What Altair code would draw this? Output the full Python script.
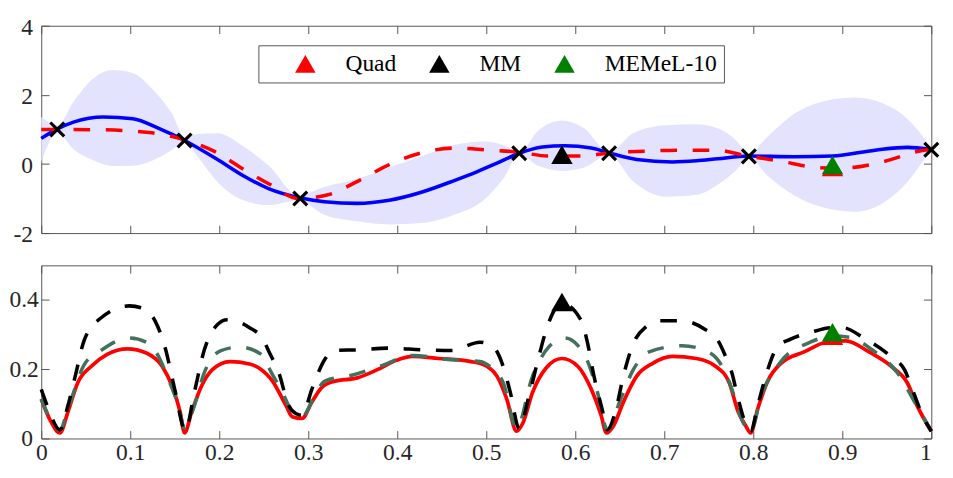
import altair as alt
import pandas as pd

# ---------------- data ----------------
# top panel: GP mean (blue), quadrature / true curve (red dashed), band
mean_x = [0.0, 0.017, 0.037, 0.07, 0.103, 0.132, 0.161, 0.198, 0.227, 0.256, 0.289, 0.318,
          0.355, 0.391, 0.428, 0.464, 0.49, 0.51, 0.537, 0.563, 0.588, 0.618, 0.638, 0.669,
          0.709, 0.736, 0.76, 0.794, 0.846, 0.889, 0.937, 0.973, 1.0]
mean_y = [0.74, 1.0, 1.22, 1.36, 1.31, 1.03, 0.68, 0.13, -0.34, -0.72, -0.97, -1.09,
          -1.14, -1.05, -0.81, -0.48, -0.22, 0.0, 0.31, 0.49, 0.53, 0.46, 0.32, 0.13,
          0.06, 0.09, 0.15, 0.23, 0.21, 0.23, 0.40, 0.48, 0.41]

true_x = [0.0, 0.066, 0.121, 0.161, 0.198, 0.227, 0.256, 0.289, 0.321, 0.357, 0.391, 0.427,
          0.465, 0.5, 0.537, 0.57, 0.607, 0.638, 0.68, 0.716, 0.758, 0.794, 0.831, 0.864,
          0.889, 0.911, 0.948, 0.992, 1.0]
true_y = [1.0, 0.99, 0.91, 0.70, 0.32, -0.15, -0.58, -1.0, -0.9, -0.48, -0.02, 0.32,
          0.46, 0.41, 0.34, 0.23, 0.23, 0.32, 0.37, 0.40, 0.40, 0.23, 0.08, -0.08,
          -0.12, -0.10, 0.08, 0.40, 0.42]

band_x = [0.0, 0.018, 0.037, 0.059, 0.081, 0.103, 0.125, 0.147, 0.161, 0.176, 0.198, 0.227,
          0.256, 0.289, 0.318, 0.355, 0.391, 0.428, 0.464, 0.497, 0.519, 0.537, 0.559, 0.585,
          0.61, 0.638, 0.665, 0.702, 0.735, 0.76, 0.78, 0.795, 0.816, 0.846, 0.882, 0.915,
          0.948, 0.973, 0.992, 1.0]
band_hi = [1.36, 1.12, 1.83, 2.49, 2.72, 2.63, 2.16, 1.45, 0.79, 0.87, 0.89, 0.51,
           -0.06, -0.91, -0.67, -0.43, -0.10, 0.23, 0.55, 0.65, 0.55, 0.33, 0.98, 1.26,
           1.03, 0.34, 0.89, 1.12, 1.15, 1.03, 0.70, 0.30, 0.79, 1.45, 1.83, 1.92,
           1.73, 1.31, 0.74, 0.44]
band_lo = [0.04, 0.88, 0.41, 0.10, -0.06, -0.05, 0.10, 0.41, 0.67, 0.20, -0.52, -1.05,
           -1.19, -1.05, -1.47, -1.66, -1.75, -1.71, -1.47, -1.05, -0.43, 0.27, -0.06, -0.20,
           -0.10, 0.27, -0.50, -0.95, -0.90, -0.60, -0.20, 0.18, -0.34, -0.91, -1.28, -1.38,
           -1.09, -0.53, 0.13, 0.38]

obs_x = [0.018, 0.161, 0.291, 0.537, 0.638, 0.795, 1.0]
obs_y = [1.0, 0.68, -1.0, 0.31, 0.31, 0.22, 0.41]

methods = ["Quad", "MM", "MEMeL-10"]
method_colors = ["#ff0000", "#000000", "#008000"]
top_pick_x = [0.889, 0.585, 0.889]
top_pick_y = [-0.09, 0.27, -0.03]
bot_pick_x = [0.889, 0.585, 0.889]
bot_pick_y = [0.297, 0.394, 0.307]

# bottom panel: acquisition curves
quad_x = [0.0, 0.010, 0.021, 0.030, 0.041, 0.056, 0.074, 0.097, 0.118, 0.136, 0.147, 0.156,
          0.161, 0.169, 0.180, 0.192, 0.212, 0.234, 0.245, 0.260, 0.275, 0.282, 0.293, 0.304,
          0.315, 0.329, 0.355, 0.377, 0.399, 0.417, 0.446, 0.483, 0.501, 0.512, 0.523, 0.534,
          0.541, 0.552, 0.567, 0.585, 0.603, 0.618, 0.629, 0.635, 0.643, 0.654, 0.669, 0.687,
          0.709, 0.736, 0.758, 0.773, 0.783, 0.791, 0.797, 0.805, 0.816, 0.831, 0.857, 0.882,
          0.904, 0.930, 0.955, 0.973, 0.984, 1.0]
quad_y = [0.114, 0.053, 0.016, 0.077, 0.161, 0.208, 0.243, 0.259, 0.247, 0.208, 0.151, 0.077,
          0.016, 0.077, 0.151, 0.198, 0.222, 0.215, 0.203, 0.165, 0.095, 0.063, 0.058, 0.105,
          0.147, 0.165, 0.175, 0.198, 0.226, 0.237, 0.231, 0.222, 0.208, 0.180, 0.114, 0.021,
          0.044, 0.133, 0.203, 0.231, 0.208, 0.142, 0.067, 0.016, 0.037, 0.105, 0.180, 0.217,
          0.237, 0.231, 0.208, 0.161, 0.077, 0.039, 0.016, 0.086, 0.165, 0.217, 0.250, 0.278,
          0.282, 0.250, 0.208, 0.161, 0.095, 0.021]

memel_x = [0.0, 0.021, 0.030, 0.048, 0.067, 0.099, 0.118, 0.132, 0.143, 0.154, 0.161, 0.172,
           0.183, 0.202, 0.223, 0.249, 0.256, 0.271, 0.282, 0.293, 0.307, 0.318, 0.351, 0.384,
           0.417, 0.457, 0.493, 0.504, 0.519, 0.534, 0.552, 0.570, 0.588, 0.603, 0.614, 0.625,
           0.636, 0.651, 0.665, 0.683, 0.720, 0.746, 0.765, 0.776, 0.787, 0.797, 0.809, 0.831,
           0.864, 0.889, 0.909, 0.933, 0.962, 0.984, 1.0]
memel_y = [0.114, 0.025, 0.085, 0.212, 0.254, 0.290, 0.278, 0.236, 0.170, 0.095, 0.030, 0.095,
           0.189, 0.254, 0.264, 0.240, 0.203, 0.133, 0.077, 0.063, 0.123, 0.165, 0.184, 0.212,
           0.240, 0.228, 0.222, 0.208, 0.161, 0.030, 0.180, 0.264, 0.290, 0.268, 0.222, 0.133,
           0.025, 0.114, 0.198, 0.250, 0.268, 0.254, 0.208, 0.142, 0.055, 0.021, 0.123, 0.222,
           0.278, 0.296, 0.292, 0.257, 0.189, 0.093, 0.021]

mm_x = [0.0, 0.008, 0.021, 0.030, 0.039, 0.048, 0.067, 0.099, 0.114, 0.128, 0.139, 0.150,
        0.162, 0.172, 0.183, 0.198, 0.209, 0.234, 0.249, 0.256, 0.267, 0.278, 0.286, 0.293,
        0.304, 0.318, 0.329, 0.355, 0.391, 0.428, 0.461, 0.493, 0.508, 0.519, 0.527, 0.537,
        0.548, 0.559, 0.567, 0.585, 0.607, 0.614, 0.621, 0.630, 0.636, 0.645, 0.654, 0.665,
        0.680, 0.694, 0.720, 0.746, 0.758, 0.769, 0.776, 0.783, 0.797, 0.805, 0.815, 0.827,
        0.842, 0.864, 0.889, 0.900, 0.926, 0.955, 0.970, 0.980, 0.990, 1.0]
mm_y = [0.142, 0.086, 0.025, 0.095, 0.189, 0.282, 0.348, 0.383, 0.376, 0.339, 0.264, 0.142,
        0.022, 0.133, 0.254, 0.329, 0.343, 0.320, 0.287, 0.250, 0.189, 0.095, 0.072, 0.067,
        0.142, 0.226, 0.254, 0.256, 0.261, 0.256, 0.254, 0.278, 0.264, 0.208, 0.133, 0.028,
        0.123, 0.236, 0.311, 0.39, 0.339, 0.273, 0.180, 0.086, 0.025, 0.077, 0.180, 0.273,
        0.324, 0.340, 0.340, 0.315, 0.292, 0.236, 0.189, 0.114, 0.021, 0.095, 0.189, 0.264,
        0.287, 0.306, 0.320, 0.320, 0.287, 0.236, 0.198, 0.133, 0.067, 0.021]

x_ticks = [0, 0.1, 0.2, 0.3, 0.4, 0.5, 0.6, 0.7, 0.8, 0.9, 1]
y1_ticks = [-2, 0, 2, 4]
y2_ticks = [0, 0.2, 0.4]

# ---------------- styling ----------------
FONT = "Liberation Serif, Times New Roman, DejaVu Serif, serif"
AX = "#555555"
TXT = "#262626"
LFS = 24
W, H1, H2 = 910, 212, 177
DASH = [17, 16]
X_SHAPE = "M-1,-1L1,1M-1,1L1,-1"

xs = alt.Scale(domain=[0, 1], nice=False, zero=False)
ys1 = alt.Scale(domain=[-2, 4], nice=False, zero=False)
ys2 = alt.Scale(domain=[0, 0.5], nice=False, zero=False)


def tick_axis(orient, values, labels=False, pad=8, align=None, loff=0):
    kw = {}
    if align is not None:
        kw["labelAlign"] = align
    return alt.Axis(orient=orient, values=values, offset=-8, tickSize=8, domain=False,
                    grid=False, labels=labels, tickColor=AX, tickWidth=1, title=None,
                    labelPadding=pad, labelExpr="'' + datum.value", labelFlush=False,
                    labelOverlap=False, labelBound=False, labelFont=FONT,
                    labelFontSize=LFS, labelColor=TXT, labelOffset=loff, **kw)


df_band = pd.DataFrame({"x": band_x, "lo": band_lo, "hi": band_hi})
df_mean = pd.DataFrame({"x": mean_x, "y": mean_y})
df_true = pd.DataFrame({"x": true_x, "y": true_y})
df_obs = pd.DataFrame({"x": obs_x, "y": obs_y})
df_top_pick = pd.DataFrame({"x": top_pick_x, "y": top_pick_y, "method": methods})
df_bot_pick = pd.DataFrame({"x": bot_pick_x, "y": bot_pick_y, "method": methods})
df_quad = pd.DataFrame({"x": quad_x, "y": quad_y})
df_memel = pd.DataFrame({"x": memel_x, "y": memel_y})
df_mm = pd.DataFrame({"x": mm_x, "y": mm_y})

# ---------------- top panel ----------------
band = alt.Chart(df_band).mark_area(color="#e3e3fd", opacity=1, interpolate="monotone").encode(
    x=alt.X("x:Q", scale=xs, axis=tick_axis("bottom", x_ticks)),
    y=alt.Y("lo:Q", scale=ys1, axis=tick_axis("left", y1_ticks, labels=True, pad=9, loff=2)),
    y2="hi:Q",
)
mean_line = alt.Chart(df_mean).mark_line(color="#0000ff", strokeWidth=3.6, interpolate="monotone").encode(
    x=alt.X("x:Q", scale=xs, axis=tick_axis("top", x_ticks)),
    y=alt.Y("y:Q", scale=ys1, axis=tick_axis("right", y1_ticks)),
)
true_line = alt.Chart(df_true).mark_line(color="#ff0000", strokeWidth=3.6, strokeDash=DASH,
                                         interpolate="monotone").encode(
    x=alt.X("x:Q", scale=xs, axis=None),
    y=alt.Y("y:Q", scale=ys1, axis=None),
)
obs = alt.Chart(df_obs).mark_point(shape=X_SHAPE, filled=False, color="black", strokeWidth=3.2,
                                   size=200, opacity=1).encode(
    x=alt.X("x:Q", scale=xs, axis=None),
    y=alt.Y("y:Q", scale=ys1, axis=None),
)
color_enc = alt.Color(
    "method:N",
    scale=alt.Scale(domain=methods, range=method_colors),
    legend=alt.Legend(
        orient="none", legendX=222, legendY=20, direction="horizontal",
        title=" ", titleOrient="left", titleFontSize=4, titlePadding=29,
        symbolType="triangle-up", symbolSize=440, symbolStrokeWidth=0, symbolOpacity=1,
        labelFont=FONT, labelFontSize=LFS, labelColor="black", labelOffset=29,
        columnPadding=32, padding=7, strokeColor=AX, fillColor="white", labelLimit=400,
    ),
    sort=methods,
)
top_pick = alt.Chart(df_top_pick).mark_point(shape="triangle-up", filled=True, size=480,
                                             opacity=1).encode(
    x=alt.X("x:Q", scale=xs, axis=None),
    y=alt.Y("y:Q", scale=ys1, axis=None),
    color=color_enc,
)

top = alt.layer(band, mean_line, true_line, obs, top_pick).resolve_axis(
    x="independent", y="independent"
).properties(width=W, height=H1)

# ---------------- bottom panel ----------------
x_label_align = {"condition": {"test": "datum.value == 1", "value": "right"}, "value": "center"}
y2_label_pad = {"condition": {"test": "datum.value > 0.1", "value": 3}, "value": 9}
quad_line = alt.Chart(df_quad).mark_line(color="#ff0000", strokeWidth=3.8, interpolate="monotone").encode(
    x=alt.X("x:Q", scale=xs, axis=tick_axis("bottom", x_ticks, labels=True, pad=2,
                                             align=x_label_align)),
    y=alt.Y("y:Q", scale=ys2, axis=tick_axis("left", y2_ticks, labels=True, pad=y2_label_pad)),
)
memel_line = alt.Chart(df_memel).mark_line(color="#43715c", strokeWidth=3.6, strokeDash=DASH,
                                           interpolate="monotone").encode(
    x=alt.X("x:Q", scale=xs, axis=tick_axis("top", x_ticks)),
    y=alt.Y("y:Q", scale=ys2, axis=tick_axis("right", y2_ticks)),
)
mm_line = alt.Chart(df_mm).mark_line(color="#000000", strokeWidth=3.6, strokeDash=DASH,
                                     interpolate="monotone").encode(
    x=alt.X("x:Q", scale=xs, axis=None),
    y=alt.Y("y:Q", scale=ys2, axis=None),
)
bot_pick = alt.Chart(df_bot_pick).mark_point(shape="triangle-up", filled=True, size=480,
                                             opacity=1).encode(
    x=alt.X("x:Q", scale=xs, axis=None),
    y=alt.Y("y:Q", scale=ys2, axis=None),
    color=alt.Color("method:N", scale=alt.Scale(domain=methods, range=method_colors), legend=None),
)

bottom = alt.layer(quad_line, memel_line, mm_line, bot_pick).resolve_axis(
    x="independent", y="independent"
).properties(width=W, height=H2)

chart = alt.vconcat(top, bottom, spacing=33, bounds="flush").properties(
    padding={"left": 0, "top": 2, "right": 0, "bottom": -4},
    background="white",
).configure_view(
    stroke=AX, strokeWidth=1
).configure_axis(
    labelFont=FONT, labelFontSize=LFS, labelColor=TXT, grid=False
)

chart.save("out.html", embed_options={"renderer": "svg", "actions": False})
